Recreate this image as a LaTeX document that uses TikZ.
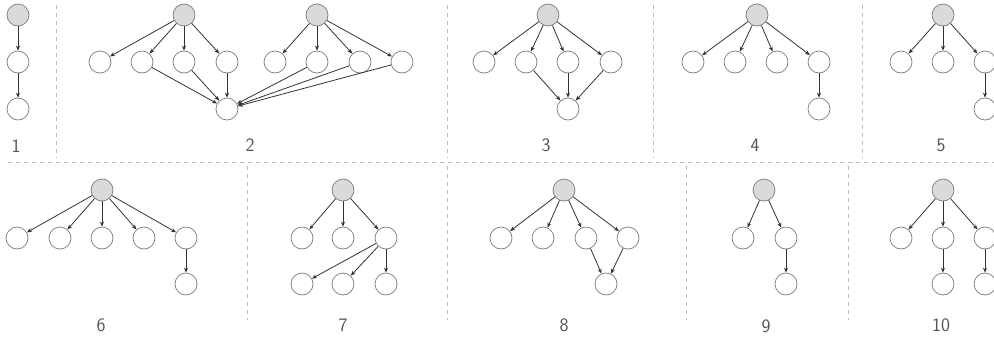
\documentclass[tikz,border=0pt]{standalone}
\usetikzlibrary{arrows.meta}
\definecolor{rootfill}{HTML}{D9DBD9}
\definecolor{nodeline}{HTML}{7A7A7A}
\definecolor{edgecol}{HTML}{333333}
\definecolor{dashcol}{HTML}{BBBBBB}
\definecolor{labcol}{HTML}{555555}
\tikzset{
  nd/.style={circle, draw=nodeline, fill=white, minimum size=22pt, inner sep=0pt, line width=0.7pt},
  rt/.style={nd, fill=rootfill},
  ar/.style={-{Stealth[length=5pt,width=4pt]}, draw=edgecol, line width=0.8pt},
  sep/.style={draw=dashcol, line width=0.9pt, dash pattern=on 4pt off 4pt},
  lab/.style={text=labcol, font=\sffamily\fontsize{19}{22}\selectfont, inner sep=0pt}
}
\begin{document}
\begin{tikzpicture}[x=1pt,y=-1pt]
\useasboundingbox (0,0) rectangle (994,341);
% separators
\draw[sep] (8,162) -- (994,162);
\foreach \x in {56,447,653,862} \draw[sep] (\x,5) -- (\x,158);
\foreach \x in {247,447,686,848} \draw[sep] (\x,166) -- (\x,320);

% panel 1
\node[rt] (p1a) at (18,15) {};
\node[nd] (p1b) at (18,62) {};
\node[nd] (p1c) at (18,109) {};
\draw[ar] (p1a) -- (p1b);
\draw[ar] (p1b) -- (p1c);
\node[lab] (l1) at (16,146) {1};

% panel 2
\node[rt] (p2r1) at (184,15) {};
\node[rt] (p2r2) at (317,15) {};
\node[nd] (p2a1) at (100,62) {};
\node[nd] (p2a2) at (142,62) {};
\node[nd] (p2a3) at (184,62) {};
\node[nd] (p2a4) at (227,62) {};
\node[nd] (p2b1) at (275,62) {};
\node[nd] (p2b2) at (317,62) {};
\node[nd] (p2b3) at (360,62) {};
\node[nd] (p2b4) at (402,62) {};
\node[nd] (p2s) at (227,109) {};
\foreach \c in {p2a1,p2a2,p2a3,p2a4} \draw[ar] (p2r1) -- (\c);
\foreach \c in {p2b1,p2b2,p2b3,p2b4} \draw[ar] (p2r2) -- (\c);
\foreach \c in {p2a2,p2a3,p2a4,p2b2,p2b3,p2b4} \draw[ar] (\c) -- (p2s);
\node[lab] (l2) at (250,145) {2};

% panel 3
\node[rt] (p3r) at (548,15) {};
\node[nd] (p3a) at (484,62) {};
\node[nd] (p3b) at (526,62) {};
\node[nd] (p3c) at (568,62) {};
\node[nd] (p3d) at (611,62) {};
\node[nd] (p3s) at (568,109) {};
\foreach \c in {p3a,p3b,p3c,p3d} \draw[ar] (p3r) -- (\c);
\foreach \c in {p3b,p3c,p3d} \draw[ar] (\c) -- (p3s);
\node[lab] (l3) at (546,145) {3};

% panel 4
\node[rt] (p4r) at (757,15) {};
\node[nd] (p4a) at (693,62) {};
\node[nd] (p4b) at (735,62) {};
\node[nd] (p4c) at (777,62) {};
\node[nd] (p4d) at (819,62) {};
\node[nd] (p4e) at (819,109) {};
\foreach \c in {p4a,p4b,p4c,p4d} \draw[ar] (p4r) -- (\c);
\draw[ar] (p4d) -- (p4e);
\node[lab] (l4) at (755,145) {4};

% panel 5
\node[rt] (p5r) at (943,15) {};
\node[nd] (p5a) at (901,62) {};
\node[nd] (p5b) at (943,62) {};
\node[nd] (p5c) at (985,62) {};
\node[nd] (p5d) at (985,109) {};
\foreach \c in {p5a,p5b,p5c} \draw[ar] (p5r) -- (\c);
\draw[ar] (p5c) -- (p5d);
\node[lab] (l5) at (941,145) {5};

% panel 6
\node[rt] (p6r) at (102,190) {};
\node[nd] (p6a) at (17,238) {};
\node[nd] (p6b) at (60,238) {};
\node[nd] (p6c) at (102,238) {};
\node[nd] (p6d) at (144,238) {};
\node[nd] (p6e) at (186,238) {};
\node[nd] (p6f) at (186,284) {};
\foreach \c in {p6a,p6b,p6c,p6d,p6e} \draw[ar] (p6r) -- (\c);
\draw[ar] (p6e) -- (p6f);
\node[lab] (l6) at (101,325) {6};

% panel 7
\node[rt] (p7r) at (343,190) {};
\node[nd] (p7a) at (302,238) {};
\node[nd] (p7b) at (343,238) {};
\node[nd] (p7c) at (386,238) {};
\node[nd] (p7d) at (302,284) {};
\node[nd] (p7e) at (343,284) {};
\node[nd] (p7f) at (386,284) {};
\foreach \c in {p7a,p7b,p7c} \draw[ar] (p7r) -- (\c);
\foreach \c in {p7d,p7e,p7f} \draw[ar] (p7c) -- (\c);
\node[lab] (l7) at (343,325) {7};

% panel 8
\node[rt] (p8r) at (564,190) {};
\node[nd] (p8a) at (501,238) {};
\node[nd] (p8b) at (543,238) {};
\node[nd] (p8c) at (586,238) {};
\node[nd] (p8d) at (628,238) {};
\node[nd] (p8s) at (606,284) {};
\foreach \c in {p8a,p8b,p8c,p8d} \draw[ar] (p8r) -- (\c);
\foreach \c in {p8c,p8d} \draw[ar] (\c) -- (p8s);
\node[lab] (l8) at (564,325) {8};

% panel 9
\node[rt] (p9r) at (764,190) {};
\node[nd] (p9a) at (743,238) {};
\node[nd] (p9b) at (786,238) {};
\node[nd] (p9c) at (786,284) {};
\foreach \c in {p9a,p9b} \draw[ar] (p9r) -- (\c);
\draw[ar] (p9b) -- (p9c);
\node[lab] (l9) at (766,326) {9};

% panel 10
\node[rt] (p10r) at (943,190) {};
\node[nd] (p10a) at (901,238) {};
\node[nd] (p10b) at (943,238) {};
\node[nd] (p10c) at (985,238) {};
\node[nd] (p10d) at (943,284) {};
\node[nd] (p10e) at (985,284) {};
\foreach \c in {p10a,p10b,p10c} \draw[ar] (p10r) -- (\c);
\draw[ar] (p10b) -- (p10d);
\draw[ar] (p10c) -- (p10e);
\node[lab] (l10) at (941,325) {10};
\end{tikzpicture}
\end{document}
